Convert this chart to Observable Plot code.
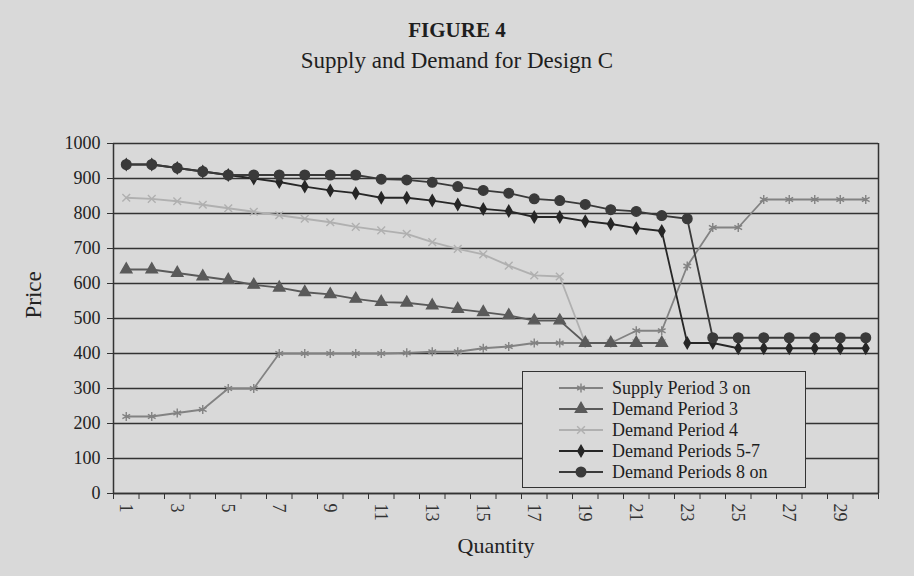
<!DOCTYPE html>
<html><head><meta charset="utf-8">
<script src="https://cdn.jsdelivr.net/npm/d3@7"></script>
<script src="https://cdn.jsdelivr.net/npm/@observablehq/plot@0.6"></script>
<style>
body{margin:0;background:#d9d9d9;}
#wrap{position:relative;width:914px;height:576px;font-family:"Liberation Serif","DejaVu Serif",serif;color:#1e1e1e;overflow:hidden;}
#t1{position:absolute;top:17px;left:0;width:914px;text-align:center;font-weight:bold;font-size:21px;line-height:26px;}
#t2{position:absolute;top:47px;left:0;width:914px;text-align:center;font-size:23px;line-height:28px;}
#chart{position:absolute;top:110px;left:0;}
#legend{position:absolute;left:522px;top:371px;width:284px;height:117px;border:1.5px solid #333;box-sizing:border-box;background:#d9d9d9;}
.row{position:absolute;left:0;height:20px;width:280px;}
.row svg{position:absolute;left:36px;top:0;}
.row span{position:absolute;left:89px;top:0;font-size:18px;line-height:20px;white-space:nowrap;}
</style>
</head><body>
<div id="wrap">
  <div id="t1">FIGURE 4</div>
  <div id="t2">Supply and Demand for Design C</div>
  <div id="chart"></div>
  <div id="legend"></div>
</div>
<script>
const quantity = [1,2,3,4,5,6,7,8,9,10,11,12,13,14,15,16,17,18,19,20,21,22,23,24,25,26,27,28,29,30];
const supply    = [220,220,230,240,300,300,400,400,400,400,400,402,405,405,415,420,430,430,430,430,465,465,650,760,760,840,840,840,840,840];
const demand3   = [640,640,630,620,610,596,588,575,569,556,547,545,537,527,518,509,494,494,430,430,430,430];
const demand4   = [845,842,835,825,815,805,795,785,775,762,752,742,718,699,683,651,623,620,430,430,430,430];
const demand57  = [940,940,930,920,910,900,890,877,866,858,845,845,837,826,813,807,790,790,778,770,758,750,430,430,415,415,415,415,415,415];
const demand8   = [940,940,930,920,910,910,910,910,910,910,898,896,889,877,866,858,842,837,826,811,806,794,785,445,445,445,445,445,445,445];
const seriesNames = ["Supply Period 3 on","Demand Period 3","Demand Period 4","Demand Periods 5-7","Demand Periods 8 on"];
const yTicks = [0,100,200,300,400,500,600,700,800,900,1000];
const xTickLabels = [1,3,5,7,9,11,13,15,17,19,21,23,25,27,29];
const xBounds = [0.5,1.5,2.5,3.5,4.5,5.5,6.5,7.5,8.5,9.5,10.5,11.5,12.5,13.5,14.5,15.5,16.5,17.5,18.5,19.5,20.5,21.5,22.5,23.5,24.5,25.5,26.5,27.5,28.5,29.5,30.5];

const styles = [
  {name: seriesNames[0], values: supply,   color: "#828282", symbol: "asterisk", r: 4.2, fill: "none"},
  {name: seriesNames[2], values: demand4,  color: "#b0b0b0", symbol: "times",    r: 3.6, fill: "none"},
  {name: seriesNames[1], values: demand3,  color: "#5a5a5a", symbol: "triangle", r: 4.2, fill: "#5a5a5a"},
  {name: seriesNames[3], values: demand57, color: "#262626", symbol: "diamond",  r: 3.4, fill: "#262626"},
  {name: seriesNames[4], values: demand8,  color: "#3a3a3a", symbol: "circle",   r: 4.8, fill: "#3a3a3a"}
];

const marks = [
  Plot.gridY(yTicks, {stroke: "#333", strokeOpacity: 1, strokeWidth: 1.3}),
  Plot.ruleY([0], {stroke: "#333", strokeWidth: 1.5}),
  Plot.ruleX([0.5], {y1: 0, y2: 1000, stroke: "#333", strokeWidth: 1.5}),
  Plot.ruleX([30.5], {y1: 0, y2: 1000, stroke: "#333", strokeWidth: 1.5}),
  Plot.axisY(yTicks, {tickSize: 6, tickPadding: 7, fontSize: 18, tickFormat: d => String(d), label: null, stroke: "#333", fill: "#222"}),
  Plot.axisX(xBounds, {tickSize: 6, tickFormat: () => "", label: null, stroke: "#333"}),
  Plot.axisX(xTickLabels, {tickSize: 0, tickPadding: 10, tickRotate: 90, fontSize: 18, label: null, fill: "#333"}),
  Plot.text(["Price"], {frameAnchor: "left", dx: -80, rotate: -90, fontSize: 23, fill: "#222"}),
  Plot.text(["Quantity"], {frameAnchor: "bottom", dy: 59, fontSize: 22, fill: "#222"})
];
for (const s of styles) {
  const data = s.values.map((v, i) => ({q: quantity[i], p: v}));
  marks.push(Plot.line(data, {x: "q", y: "p", stroke: s.color, strokeWidth: 1.8}));
  marks.push(Plot.dot(data, {x: "q", y: "p", symbol: () => s.symbol, r: s.r, stroke: s.color, fill: s.fill, strokeWidth: 1.4}));
}

const chart = Plot.plot({
  width: 914, height: 466,
  marginTop: 33, marginBottom: 83, marginLeft: 113, marginRight: 36,
  style: {background: "transparent", fontFamily: "Liberation Serif, serif", color: "#222"},
  x: {type: "linear", domain: [0.5, 30.5]},
  y: {domain: [0, 1000]},
  symbol: {type: "identity"},
  marks
});
document.getElementById("chart").appendChild(chart);

// legend
const legendOrder = [styles[0], styles[2], styles[1], styles[3], styles[4]];
const leg = document.getElementById("legend");
const symMap = {asterisk: d3.symbolAsterisk, triangle: d3.symbolTriangle, times: d3.symbolTimes, diamond: d3.symbolDiamond, circle: d3.symbolCircle};
legendOrder.forEach((s, i) => {
  const row = document.createElement("div");
  row.className = "row";
  row.style.top = (6 + i * 21) + "px";
  const svg = d3.create("svg").attr("width", 46).attr("height", 20);
  svg.append("line").attr("x1", 0).attr("x2", 44).attr("y1", 10).attr("y2", 10).attr("stroke", s.color).attr("stroke-width", 1.8);
  svg.append("path").attr("transform", "translate(22,10)")
    .attr("d", d3.symbol(symMap[s.symbol], s.r * s.r * Math.PI)())
    .attr("stroke", s.color).attr("fill", s.fill).attr("stroke-width", 1.4);
  row.appendChild(svg.node());
  const span = document.createElement("span");
  span.textContent = s.name;
  row.appendChild(span);
  leg.appendChild(row);
});
</script>
</body></html>
